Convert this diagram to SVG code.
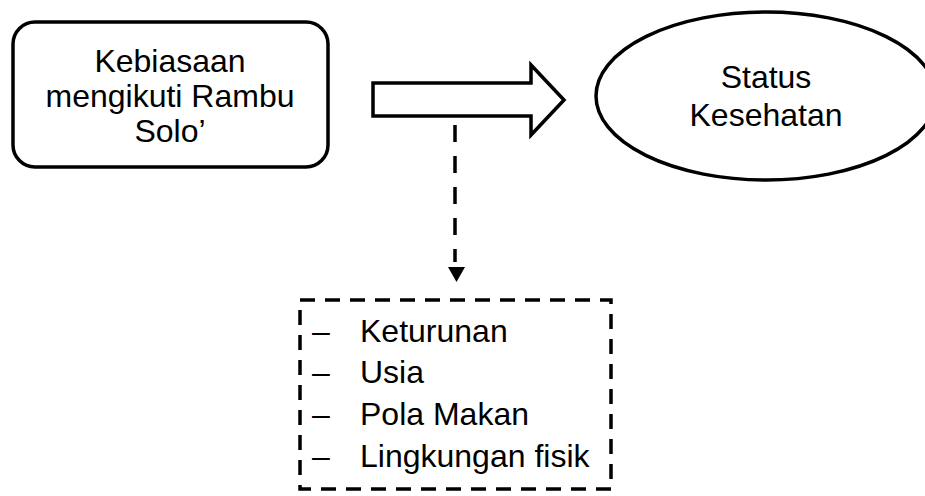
<svg xmlns="http://www.w3.org/2000/svg" width="925" height="496" viewBox="0 0 925 496">
<defs>
<style>
.shape{fill:#fff;stroke:#000;stroke-width:3.5}
.t{font-family:"Liberation Sans",Arial,sans-serif;font-size:32px;fill:#000}
.c{text-anchor:middle}
.dash{fill:none;stroke:#000;stroke-width:3.5;stroke-dasharray:17 14}
.dbox{fill:none;stroke:#000;stroke-width:3.5;stroke-dasharray:15 10}
</style>
</defs>
<rect width="925" height="496" fill="#fff"/>
<g id="node-kebiasaan">
<rect class="shape" x="13" y="22" width="315" height="145" rx="22"/>
<text class="t c" x="170" y="72">Kebiasaan</text>
<text class="t c" x="170" y="107">mengikuti Rambu</text>
<text class="t c" x="170" y="142">Solo’</text>
</g>
<g id="node-status">
<ellipse class="shape" cx="766" cy="96" rx="170" ry="84"/>
<text class="t c" x="766" y="88">Status</text>
<text class="t c" x="766" y="126">Kesehatan</text>
</g>
<g id="node-faktor">
<rect class="dbox" x="300" y="300" width="311" height="189"/>
<text class="t" x="312" y="342">–</text>
<text class="t" x="360" y="342">Keturunan</text>
<text class="t" x="312" y="383">–</text>
<text class="t" x="360" y="383">Usia</text>
<text class="t" x="312" y="425">–</text>
<text class="t" x="360" y="425">Pola Makan</text>
<text class="t" x="312" y="467">–</text>
<text class="t" x="360" y="467">Lingkungan fisik</text>
</g>
<g id="connectors">
<polygon class="shape" stroke-width="3" stroke-linejoin="miter" points="373,83 531,83 531,65 564,100 531,135 531,116 373,116"/>
<line class="dash" x1="455" y1="125" x2="455" y2="262"/>
<polygon points="448,267 465,267 456.5,282" fill="#000"/>
</g>
</svg>
